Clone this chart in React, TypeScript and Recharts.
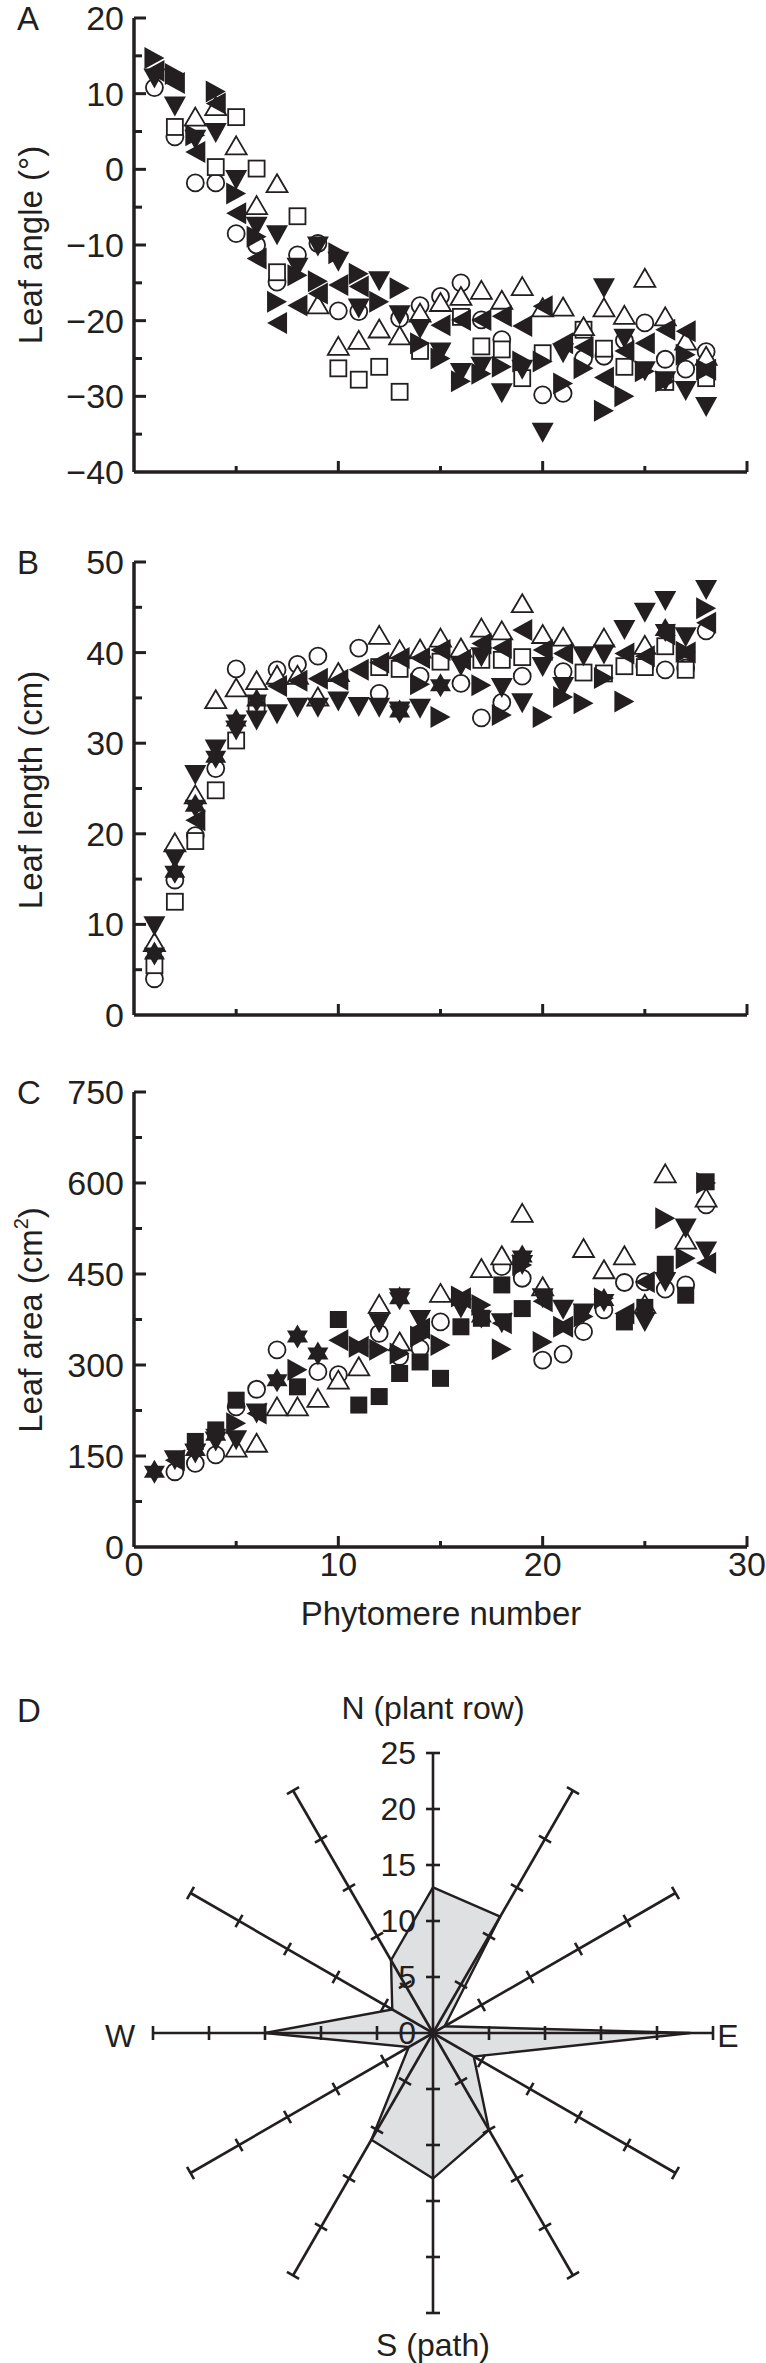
import React from 'react';
import {
  ScatterChart,
  Scatter,
  XAxis,
  YAxis,
  RadarChart,
  Radar,
  PolarAngleAxis,
  PolarRadiusAxis,
} from 'recharts';

const INK = '#231f20';
const FONT = '"Liberation Sans", Arial, Helvetica, sans-serif';

// phytomere numbers (x axis of A-C)
const PHYTOMERE = [1, 2, 3, 4, 5, 6, 7, 8, 9, 10, 11, 12, 13, 14, 15, 16, 17, 18, 19, 20, 21, 22, 23, 24, 25, 26, 27, 28];
const X_TICKS = [0, 5, 10, 15, 20, 25, 30];

// A - leaf angle (deg)
const ANGLE_TICKS = [-40, -35, -30, -25, -20, -15, -10, -5, 0, 5, 10, 15, 20];
const angleCircle = [10.8, 4.3, -1.8, -1.8, -8.5, -10.0, -14.9, -11.3, -9.8, -18.7, -18.8, null, -19.7, -18.0, -16.8, -15.0, -19.9, -22.5, null, -29.8, -29.6, -25.0, -24.7, -22.6, -20.3, -25.1, -26.4, -24.1];
const angleSquare = [null, 5.6, null, 0.3, 6.9, 0.1, -13.6, -6.2, null, -26.3, -27.8, -26.1, -29.4, -24.0, null, -19.5, -23.4, -23.8, -27.6, -24.3, null, -21.2, -23.7, -26.1, null, -28.1, null, -27.6];
const angleTriUp = [null, null, 6.9, 8.3, 3.1, -4.8, -1.9, null, -17.9, -23.4, -22.6, -21.1, -22.0, -19.0, -17.6, -16.8, -16.0, -17.3, -15.5, -18.3, -18.2, -20.8, -18.3, -19.3, -14.4, -19.5, -22.7, -24.7];
const angleTriDown = [12.0, 8.3, 3.9, 4.8, -1.4, -7.6, -8.7, -13.0, -10.2, -12.2, -18.4, -14.8, -19.3, -21.1, -24.2, -26.9, -26.1, -29.6, -26.5, -34.8, -24.3, null, -15.7, -22.4, -26.7, -28.0, -29.3, -31.4];
const angleTriLeft = [13.0, 11.4, 2.3, 8.7, -5.8, -11.8, -20.3, -18.0, -16.4, -15.3, -15.5, null, null, null, -20.6, -19.9, -19.9, -19.4, -20.7, -18.1, -23.0, -23.5, -27.5, -24.0, -23.0, -21.2, -21.4, -26.5];
const angleTriRight = [14.7, 12.6, 4.5, 10.3, -3.2, -8.9, -17.5, -14.0, -14.8, -11.1, -13.8, -17.5, -15.7, -23.0, -25.0, -28.0, -27.0, -26.1, -25.4, -25.4, -28.3, -26.3, -31.9, -30.0, -26.7, -28.0, -24.5, -26.5];

// B - leaf length (cm)
const LENGTH_TICKS = [0, 5, 10, 15, 20, 25, 30, 35, 40, 45, 50];
const lengthCircle = [4.0, 14.9, 19.8, 27.2, 38.2, null, 38.1, 38.7, 39.6, null, 40.5, 35.5, null, 37.4, null, 36.6, 32.8, 34.5, 37.4, null, 37.9, null, null, null, 38.5, 38.1, 38.3, 42.4];
const lengthSquare = [5.5, 12.5, 19.2, 24.8, 30.3, 34.2, null, null, null, null, null, 38.4, 38.2, null, 39.0, null, 39.2, 39.2, 39.5, null, null, 37.8, 37.7, 38.5, 38.4, 40.7, 38.1, null];
const lengthTriUp = [8.0, 19.0, 24.3, 34.8, 36.1, 36.9, 37.5, 37.5, 35.1, 37.8, null, 41.9, 40.3, 40.4, 41.6, 40.5, 42.7, 42.4, 45.4, 42.0, 41.7, null, 41.6, null, 40.8, null, null, null];
const lengthTriDown = [9.8, 17.2, 26.5, 29.3, 31.4, 32.5, 33.2, 33.9, 33.9, 34.6, 34.0, 33.9, 33.5, 33.8, null, 38.5, 39.5, 36.1, 34.4, 38.4, 36.2, 39.6, 39.8, 42.5, 44.4, 45.7, 41.7, 46.9];
const lengthStar = [6.8, 15.8, 23.1, 28.5, 32.5, 34.7, null, null, null, null, null, null, 33.5, null, 36.4, null, null, null, null, null, null, null, null, null, null, 42.5, null, null];
const lengthTriLeft = [null, null, 21.5, null, null, null, 36.3, 36.9, 37.1, 37.0, 38.1, 38.9, 39.4, 39.4, 40.3, 39.2, 41.0, 40.5, 42.5, 40.3, 39.9, null, null, 39.9, 39.6, 42.0, 40.0, 43.3];
const lengthTriRight = [null, null, null, null, null, null, null, null, null, null, null, null, null, 36.5, 32.9, null, 36.4, 33.1, null, 32.9, 35.1, 34.4, 37.2, 34.6, null, null, 40.1, 44.9];

// C - leaf area (cm2)
const AREA_TICKS = [0, 75, 150, 225, 300, 375, 450, 525, 600, 675, 750];
const areaCircle = [null, 124, 138, 152, 231, 260, 325, null, 289, 284, null, 352, 314, 327, 371, null, null, 462, 443, 308, 318, 355, 391, 436, 437, 425, 432, 564];
const areaSquare = [null, null, 174, 193, 242, null, null, 264, null, 375, 234, 248, 286, 305, 278, 363, 377, 432, 393, null, null, null, null, 371, 395, 466, 415, 602];
const areaTriUp = [null, null, null, null, 163, 171, 231, 231, 245, 275, 297, 400, 338, null, 418, null, 459, 480, 550, 429, null, 492, 457, 480, 400, 615, 506, 575];
const areaTriDown = [null, 143, 154, 174, 176, 220, null, null, null, null, null, 369, 410, 374, null, 393, null, 369, 465, 410, 391, 385, null, null, 371, 437, 525, 487];
const areaStar = [124, null, 160, 185, null, null, 275, 347, 319, null, null, null, 410, null, null, null, 380, null, 479, null, null, null, 407, null, null, null, null, null];
const areaTriLeft = [null, 143, null, null, null, 220, null, null, null, 341, 330, null, null, 360, null, 410, null, 369, null, 405, 363, null, null, 385, 437, null, null, 468];
const areaTriRight = [null, null, null, null, 204, null, null, 292, null, null, 330, 325, 319, 347, 333, 413, 399, 326, 465, 338, 363, 380, 410, null, null, 542, 476, 600];

// D - leaf azimuth frequency, clockwise from N
const DIRECTIONS = ['N', '30', '60', 'E', '120', '150', 'S', '210', '240', 'W', '300', '330'];
const FREQUENCY = [13, 12, 1.2, 23, 4.2, 10, 13, 11, 2.5, 15, 4.2, 7.5];
const SPOKE_ANGLES = [90, 60, 30, 0, -30, -60, -90, -120, -150, 180, 150, 120];

type Kind = 'circle' | 'square' | 'squareFilled' | 'up' | 'down' | 'left' | 'right' | 'star';

const marker = (kind: Kind) => (p: any) => {
  const { cx, cy } = p;
  if (cx == null || cy == null) return <g />;
  const open = { fill: '#fff', stroke: INK, strokeWidth: 1.8 };
  const solid = { fill: INK, stroke: 'none' };
  switch (kind) {
    case 'circle':
      return <circle cx={cx} cy={cy} r={8.5} {...open} />;
    case 'square':
      return <rect x={cx - 8} y={cy - 8} width={16} height={16} {...open} />;
    case 'squareFilled':
      return <rect x={cx - 8.5} y={cy - 8.5} width={17} height={17} {...solid} />;
    case 'up':
      return <polygon points={`${cx},${cy - 9.5} ${cx + 10.5},${cy + 8.5} ${cx - 10.5},${cy + 8.5}`} {...open} />;
    case 'down':
      return <polygon points={`${cx - 11},${cy - 10} ${cx + 11},${cy - 10} ${cx},${cy + 10}`} {...solid} />;
    case 'left':
      return <polygon points={`${cx + 10},${cy - 11} ${cx + 10},${cy + 11} ${cx - 10},${cy}`} {...solid} />;
    case 'right':
      return <polygon points={`${cx - 10},${cy - 11} ${cx - 10},${cy + 11} ${cx + 10},${cy}`} {...solid} />;
    case 'star':
      return (
        <g {...solid}>
          <polygon points={`${cx},${cy - 12} ${cx + 10.5},${cy + 6} ${cx - 10.5},${cy + 6}`} />
          <polygon points={`${cx - 10.5},${cy - 6} ${cx + 10.5},${cy - 6} ${cx},${cy + 12}`} />
        </g>
      );
  }
  return <g />;
};

const toPts = (vals: (number | null)[]) =>
  PHYTOMERE.map((x, i) => ({ x, y: vals[i] })).filter((d) => d.y != null);

const fmt = (v: number) => (v < 0 ? '\u2212' + Math.abs(v) : String(v));

const yTick = (major: number, min: number) => (p: any) => {
  const { x, y, payload } = p;
  const v = payload.value;
  const isMajor = Math.abs(v) % major === 0;
  return (
    <g>
      {v !== min && (
        <line x1={x} x2={x + (isMajor ? 12 : 8)} y1={y} y2={y} stroke={INK} strokeWidth={3} />
      )}
      {isMajor && (
        <text x={x - 10} y={y} dy="0.35em" textAnchor="end" fontSize={34} fontFamily={FONT} fill={INK}>
          {fmt(v)}
        </text>
      )}
    </g>
  );
};

const xTick = (labels: boolean) => (p: any) => {
  const { x, y, payload } = p;
  const v = payload.value;
  const isMajor = v % 10 === 0;
  return (
    <g>
      {v > 0 && <line x1={x} x2={x} y1={y} y2={y - (isMajor ? 11 : 6)} stroke={INK} strokeWidth={3} />}
      {labels && isMajor && (
        <text x={x} y={y + 17} dy="0.35em" textAnchor="middle" fontSize={34} fontFamily={FONT} fill={INK}>
          {v}
        </text>
      )}
    </g>
  );
};

const radTick = (ang: number, withLabel: boolean) => (p: any) => {
  const { x, y, payload } = p;
  const r = (ang * Math.PI) / 180;
  const sx = Math.sin(r) * 7;
  const sy = Math.cos(r) * 7;
  return (
    <g>
      {payload.value > 0 && (
        <line x1={x - sx} y1={y - sy} x2={x + sx} y2={y + sy} stroke={INK} strokeWidth={2.6} />
      )}
      {withLabel && (
        <text x={x - 17} y={y} dy="0.35em" textAnchor="end" fontSize={32} fontFamily={FONT} fill={INK}>
          {payload.value}
        </text>
      )}
    </g>
  );
};

interface Series {
  kind: Kind;
  values: (number | null)[];
}

interface PanelProps {
  top: number;
  height: number;
  mTop: number;
  mBottom: number;
  domain: [number, number];
  ticks: number[];
  major: number;
  series: Series[];
  xLabels?: boolean;
}

// axes need a size > 0 or recharts skips them; 1px axis band, plot starts at x=134
const Panel: React.FC<PanelProps> = ({ top, height, mTop, mBottom, domain, ticks, major, series, xLabels }) => (
  <div style={{ position: 'absolute', left: 0, top }}>
    <ScatterChart width={766} height={height} margin={{ top: mTop, right: 19, bottom: mBottom - 1, left: 133 }}>
      <XAxis
        type="number"
        dataKey="x"
        domain={[0, 30]}
        ticks={X_TICKS}
        interval={0}
        height={1}
        tickSize={0}
        tickMargin={0}
        tickLine={false}
        axisLine={{ stroke: INK, strokeWidth: 3.5 }}
        tick={xTick(!!xLabels)}
      />
      <YAxis
        type="number"
        dataKey="y"
        domain={domain}
        ticks={ticks}
        interval={0}
        width={1}
        tickSize={0}
        tickMargin={0}
        tickLine={false}
        axisLine={{ stroke: INK, strokeWidth: 3.5 }}
        tick={yTick(major, domain[0])}
      />
      {series.map((s, i) => (
        <Scatter key={i} data={toPts(s.values)} shape={marker(s.kind)} isAnimationActive={false} />
      ))}
    </ScatterChart>
  </div>
);

const Txt: React.FC<{ x: number; y: number; size?: number; rotate?: boolean; left?: boolean; children: React.ReactNode }> = ({
  x,
  y,
  size = 33,
  rotate,
  left,
  children,
}) => (
  <div
    style={{
      position: 'absolute',
      left: x,
      top: y,
      transform: left ? 'translateY(-50%)' : `translate(-50%, -50%)${rotate ? ' rotate(-90deg)' : ''}`,
      fontFamily: FONT,
      fontSize: size,
      lineHeight: 1,
      color: INK,
      whiteSpace: 'nowrap',
    }}
  >
    {children}
  </div>
);

export default function App() {
  const radarData = DIRECTIONS.map((dir, i) => ({ dir, freq: FREQUENCY[i] }));

  return (
    <div style={{ position: 'absolute', left: 0, top: 0, width: 766, height: 2363, background: '#fff' }}>
      <Panel
        top={0}
        height={520}
        mTop={18}
        mBottom={48}
        domain={[-40, 20]}
        ticks={ANGLE_TICKS}
        major={10}
        series={[
          { kind: 'circle', values: angleCircle },
          { kind: 'square', values: angleSquare },
          { kind: 'up', values: angleTriUp },
          { kind: 'down', values: angleTriDown },
          { kind: 'left', values: angleTriLeft },
          { kind: 'right', values: angleTriRight },
        ]}
      />
      <Panel
        top={520}
        height={520}
        mTop={42}
        mBottom={25}
        domain={[0, 50]}
        ticks={LENGTH_TICKS}
        major={10}
        series={[
          { kind: 'circle', values: lengthCircle },
          { kind: 'square', values: lengthSquare },
          { kind: 'up', values: lengthTriUp },
          { kind: 'star', values: lengthStar },
          { kind: 'down', values: lengthTriDown },
          { kind: 'left', values: lengthTriLeft },
          { kind: 'right', values: lengthTriRight },
        ]}
      />
      <Panel
        top={1040}
        height={620}
        mTop={52}
        mBottom={113}
        domain={[0, 750]}
        ticks={AREA_TICKS}
        major={150}
        xLabels
        series={[
          { kind: 'circle', values: areaCircle },
          { kind: 'up', values: areaTriUp },
          { kind: 'squareFilled', values: areaSquare },
          { kind: 'star', values: areaStar },
          { kind: 'down', values: areaTriDown },
          { kind: 'left', values: areaTriLeft },
          { kind: 'right', values: areaTriRight },
        ]}
      />

      <div style={{ position: 'absolute', left: 0, top: 1660 }}>
        <RadarChart width={766} height={703} cx={433} cy={373} outerRadius={280} data={radarData} startAngle={90} endAngle={-270}>
          <PolarAngleAxis dataKey="dir" tick={false} axisLine={false} tickLine={false} />
          <Radar dataKey="freq" stroke={INK} strokeWidth={2.4} fill="#dfe0e2" fillOpacity={1} dot={false} isAnimationActive={false} />
          {SPOKE_ANGLES.map((a, i) => (
            <PolarRadiusAxis
              key={a}
              radiusAxisId={i}
              angle={a}
              type="number"
              domain={[0, 25]}
              tickCount={6}
              allowDataOverflow
              stroke={INK}
              axisLine={{ stroke: INK, strokeWidth: 2.6 }}
              tick={radTick(a, i === 0)}
            />
          ))}
        </RadarChart>
      </div>

      <Txt x={17} y={18} left>A</Txt>
      <Txt x={17} y={562} left>B</Txt>
      <Txt x={17} y={1092} left>C</Txt>
      <Txt x={17} y={1710} left>D</Txt>

      <Txt x={30} y={245} rotate>Leaf angle (°)</Txt>
      <Txt x={30} y={790} rotate>Leaf length (cm)</Txt>
      <Txt x={30} y={1320} rotate>
        Leaf area (cm<sup style={{ fontSize: 20, verticalAlign: '0.7em', lineHeight: 0 }}>2</sup>)
      </Txt>
      <Txt x={441} y={1613}>Phytomere number</Txt>

      <Txt x={433} y={1708} size={32}>N (plant row)</Txt>
      <Txt x={433} y={2345} size={32}>S (path)</Txt>
      <Txt x={120} y={2036} size={32}>W</Txt>
      <Txt x={728} y={2036} size={32}>E</Txt>
    </div>
  );
}
